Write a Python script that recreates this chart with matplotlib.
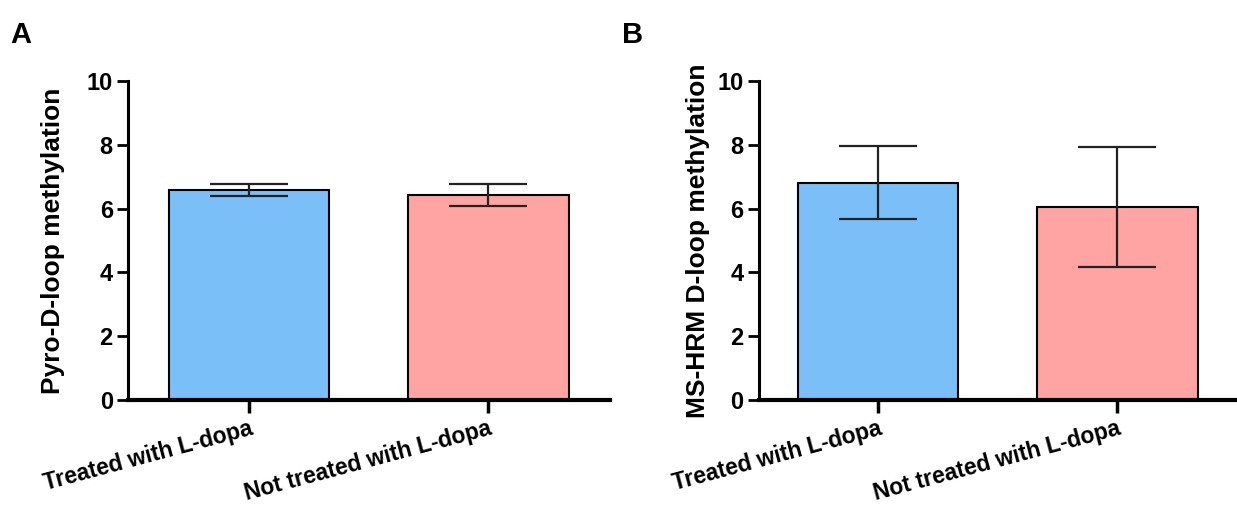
import matplotlib
matplotlib.use("Agg")
import matplotlib.pyplot as plt

plt.rcParams['font.family'] = ['Liberation Sans', 'DejaVu Sans']
plt.rcParams['font.weight'] = 'bold'

groups = ["Treated with L-dopa", "Not treated with L-dopa"]
bar_colors = ["#7bbff8", "#ffa3a3"]

# panel A: pyrosequencing
pyro_mean = [6.58, 6.43]
pyro_err = [0.18, 0.35]

# panel B: MS-HRM
hrm_mean = [6.81, 6.06]
hrm_err = [1.14, 1.88]

# letter, y label, means, errors, axes rect, xlim, letter x, ylabel x (axes frac)
panels = [
    ("A", "Pyro-D-loop methylation", pyro_mean, pyro_err, [0.1035, 0.211, 0.390, 0.629], (-0.506, 1.51), 0.008, -0.131),
    ("B", "MS-HRM D-loop methylation", hrm_mean, hrm_err, [0.6136, 0.211, 0.3864, 0.629], (-0.498, 1.50), 0.503, -0.102),
]

fig = plt.figure(figsize=(12.37, 5.07), dpi=100)

for letter, ylab, mean, err, pos, xl, lx, ylx in panels:
    ax = fig.add_axes(pos)
    x = range(len(groups))
    ax.bar(x, mean, width=0.67, color=bar_colors, edgecolor="black", linewidth=1.5, zorder=2)
    ax.errorbar(x, mean, yerr=err, fmt="none", ecolor="#222222", elinewidth=1.6,
                capsize=28, capthick=1.6, zorder=3)
    ax.set_xlim(*xl)
    ax.set_ylim(0, 10)
    ax.set_yticks([0, 2, 4, 6, 8, 10])
    ax.set_xticks(list(x))
    ax.set_xticklabels(groups, rotation=15, ha="right", rotation_mode="anchor", fontsize=16.5)
    ax.tick_params(axis="y", labelsize=17, width=2, length=8, pad=3)
    ax.tick_params(axis="x", width=2.5, length=9, pad=3)
    ax.spines["top"].set_visible(False)
    ax.spines["right"].set_visible(False)
    ax.spines["left"].set_linewidth(2.2)
    ax.spines["bottom"].set_linewidth(3)
    ax.set_ylabel(ylab, fontsize=19, fontweight="bold")
    ax.yaxis.set_label_coords(ylx, 0.5)
    fig.text(lx, 0.93, letter, fontsize=21, fontweight="bold", ha="left", va="center")

fig.savefig("out.png", dpi=100)
